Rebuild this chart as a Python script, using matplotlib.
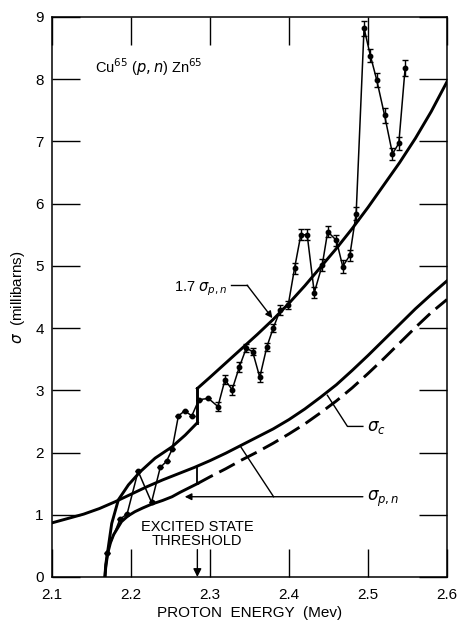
import matplotlib
matplotlib.use("Agg")
import matplotlib.pyplot as plt
import numpy as np

plt.rcParams['font.family'] = ['Liberation Sans', 'DejaVu Sans']
plt.rcParams['mathtext.fontset'] = 'dejavusans'

# measured points Cu65(p,n)Zn65
energy = [2.169, 2.186, 2.195, 2.209, 2.226, 2.237, 2.245, 2.252, 2.260, 2.268,
          2.277, 2.286, 2.298, 2.310, 2.319, 2.328, 2.337, 2.346, 2.354, 2.363,
          2.372, 2.380, 2.389, 2.399, 2.407, 2.415, 2.423, 2.432, 2.442, 2.449,
          2.460, 2.468, 2.477, 2.485, 2.495, 2.503, 2.511, 2.521, 2.531, 2.539, 2.547]
sigma = [0.38, 0.93, 1.01, 1.70, 1.20, 1.76, 1.86, 2.05, 2.59, 2.67,
         2.59, 2.85, 2.87, 2.74, 3.17, 3.01, 3.37, 3.68, 3.62, 3.21,
         3.70, 4.00, 4.29, 4.37, 4.96, 5.50, 5.50, 4.57, 5.01, 5.55,
         5.41, 4.99, 5.17, 5.84, 8.82, 8.38, 7.99, 7.42, 6.80, 6.97, 8.18]
sigma_err = [0, 0, 0, 0, 0, 0, 0, 0, 0, 0,
             0, 0, 0, 0.08, 0.07, 0.08, 0.08, 0.07, 0.06, 0.08,
             0.06, 0.06, 0.08, 0.07, 0.09, 0.09, 0.09, 0.09, 0.10, 0.09,
             0.09, 0.10, 0.09, 0.10, 0.12, 0.11, 0.11, 0.12, 0.10, 0.10, 0.13]

# compound nucleus cross section sigma_c
xc = [2.10, 2.12, 2.14, 2.16, 2.18, 2.20, 2.22, 2.24, 2.26, 2.28, 2.30, 2.32, 2.34,
      2.36, 2.38, 2.40, 2.42, 2.44, 2.46, 2.48, 2.50, 2.52, 2.54, 2.56, 2.58, 2.60]
yc = [0.87, 0.94, 1.01, 1.10, 1.21, 1.33, 1.45, 1.56, 1.66, 1.76, 1.87, 1.99, 2.12,
      2.25, 2.38, 2.53, 2.70, 2.89, 3.09, 3.32, 3.56, 3.81, 4.06, 4.31, 4.54, 4.76]

# sigma_pn below excited state threshold (solid)
xpn_lo = [2.167, 2.168, 2.1705, 2.174, 2.178, 2.188, 2.196, 2.205, 2.215, 2.226,
          2.240, 2.252, 2.262, 2.273, 2.284]
ypn_lo = [0.00, 0.15, 0.38, 0.55, 0.68, 0.89, 0.98, 1.05, 1.11, 1.17,
          1.23, 1.29, 1.36, 1.43, 1.50]

# sigma_pn above threshold (dashed)
xpn_hi = [2.284, 2.30, 2.32, 2.34, 2.36, 2.38, 2.40, 2.42, 2.44, 2.46, 2.48,
          2.50, 2.52, 2.54, 2.56, 2.58, 2.60]
ypn_hi = [1.50, 1.61, 1.74, 1.88, 2.01, 2.15, 2.30, 2.46, 2.64, 2.83, 3.04,
          3.27, 3.51, 3.76, 4.01, 4.25, 4.46]

# 1.7 sigma_pn curve
x17_lo = [2.167, 2.168, 2.1714, 2.1756, 2.184, 2.1967, 2.2115, 2.2305, 2.2517, 2.2686, 2.284]
y17_lo = [0.00, 0.20, 0.49, 0.86, 1.24, 1.48, 1.69, 1.91, 2.09, 2.28, 2.48]
x17_hi = [2.284, 2.30, 2.32, 2.34, 2.36, 2.38, 2.40, 2.42, 2.44, 2.46, 2.48,
          2.50, 2.52, 2.54, 2.56, 2.58, 2.60]
y17_hi = [3.03, 3.21, 3.44, 3.67, 3.90, 4.14, 4.40, 4.68, 4.98, 5.28, 5.60,
          5.94, 6.30, 6.66, 7.05, 7.48, 7.96]

threshold = 2.284

fig = plt.figure(figsize=(4.61, 6.23), dpi=100)
ax = fig.add_axes([52/461, 1-577/623, 395/461, 560/623])

lw = 2.1
ax.plot(xc, yc, color='black', lw=lw)
ax.plot(xpn_lo, ypn_lo, color='black', lw=lw)
ax.plot(xpn_hi, ypn_hi, color='black', lw=lw, ls=(0, (6, 2.5)))
ax.plot([threshold, threshold], [ypn_lo[-1], 1.77], color='black', lw=1.3)
ax.plot(x17_lo, y17_lo, color='black', lw=lw)
ax.plot([threshold, threshold], [y17_lo[-1], y17_hi[0]], color='black', lw=lw)
ax.plot(x17_hi, y17_hi, color='black', lw=lw)

ax.errorbar(energy, sigma, yerr=sigma_err, color='black', lw=1.1, marker='o',
            ms=3.2, capsize=2.2, elinewidth=1.0, capthick=1.0)

ax.set_xlim(2.1, 2.6)
ax.set_ylim(0, 9)
ax.set_xticks([2.1, 2.2, 2.3, 2.4, 2.5, 2.6])
ax.set_xticklabels(['2.1', '2.2', '2.3', '2.4', '2.5', '2.6'])
ax.set_yticks(range(10))
ax.tick_params(axis='both', direction='in', length=20, width=1.0,
               top=True, right=True, labelsize=11)
ax.tick_params(axis='x', pad=8)
ax.tick_params(axis='y', pad=6)
for s in ax.spines.values():
    s.set_linewidth(1.1)

ax.set_xlabel('PROTON  ENERGY  (Mev)', fontsize=11, labelpad=3)
ax.set_ylabel(r'$\sigma$  (millibarns)', fontsize=11, labelpad=6)

ax.text(2.155, 8.2, r'Cu$^{65}$ ($\mathit{p,n}$) Zn$^{65}$', fontsize=10.5, va='center')

ax.text(2.322, 4.63, r'1.7 $\sigma_{p,n}$', fontsize=10.5, ha='right', va='center')
ax.plot([2.327, 2.347], [4.69, 4.69], color='black', lw=1.0)
ax.annotate('', xy=(2.379, 4.16), xytext=(2.347, 4.69),
            arrowprops=dict(arrowstyle='-|>', color='black', lw=1.0,
                            mutation_scale=10, shrinkA=0, shrinkB=0))

ax.text(2.499, 2.40, r'$\sigma_c$', fontsize=12, va='center')
ax.plot([2.4935, 2.474, 2.4486], [2.42, 2.42, 2.92], color='black', lw=1.0)

ax.text(2.499, 1.26, r'$\sigma_{p,n}$', fontsize=12, va='center')
ax.annotate('', xy=(2.268, 1.29), xytext=(2.4935, 1.29),
            arrowprops=dict(arrowstyle='-|>', color='black', lw=1.0,
                            mutation_scale=10, shrinkA=0, shrinkB=0))
ax.plot([2.3805, 2.338], [1.29, 2.11], color='black', lw=1.0)

ax.text(threshold, 0.69, 'EXCITED STATE\nTHRESHOLD', fontsize=10.5,
        ha='center', va='center', linespacing=1.0)
ax.annotate('', xy=(threshold, 0.0), xytext=(threshold, 0.44),
            arrowprops=dict(arrowstyle='-|>', color='black', lw=1.0,
                            mutation_scale=12, shrinkA=0, shrinkB=0))

plt.savefig('out.png', dpi=100)
